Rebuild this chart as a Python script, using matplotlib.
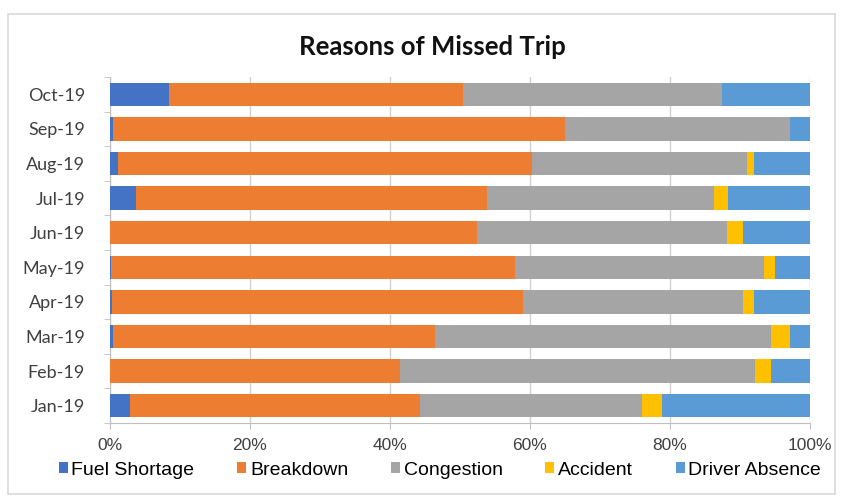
import numpy as np
import matplotlib.pyplot as plt
from matplotlib.patches import Rectangle

months = ["Jan-19", "Feb-19", "Mar-19", "Apr-19", "May-19",
          "Jun-19", "Jul-19", "Aug-19", "Sep-19", "Oct-19"]

# share of missed trips per reason, in %
fuel_shortage = [2.9, 0.0, 0.4, 0.3, 0.2, 0.0, 3.7, 1.2, 0.5, 8.4]
breakdown = [41.4, 41.4, 46.0, 58.7, 57.7, 52.4, 50.2, 59.1, 64.5, 42.0]
congestion = [31.7, 50.7, 48.0, 31.4, 35.5, 35.7, 32.4, 30.7, 32.1, 37.0]
accident = [2.9, 2.4, 2.7, 1.6, 1.6, 2.3, 2.0, 1.0, 0.0, 0.0]
driver_absence = [21.1, 5.5, 2.9, 8.0, 5.0, 9.6, 11.7, 8.0, 2.9, 12.6]

series = [("Fuel Shortage", fuel_shortage, "#4472C4"),
          ("Breakdown", breakdown, "#ED7D31"),
          ("Congestion", congestion, "#A5A5A5"),
          ("Accident", accident, "#FFC000"),
          ("Driver Absence", driver_absence, "#5B9BD5")]

fig = plt.figure(figsize=(8.45, 4.98), dpi=100)
ax = fig.add_axes([110 / 845, 1 - 423 / 498, 700 / 845, 346 / 498])

# light frame round the whole chart
fig.patches.append(Rectangle((8 / 845, 4 / 498), 827 / 845, 480 / 498,
                             transform=fig.transFigure, fill=False,
                             edgecolor="#D9D9D9", linewidth=1.2))

y = np.arange(len(months))
left = np.zeros(len(months))
for name, vals, col in series:
    vals = np.array(vals)
    ax.barh(y, vals, left=left, height=0.68, color=col, label=name, zorder=3)
    left += vals

ax.set_xlim(0, 100)
ax.set_ylim(-0.5, len(months) - 0.5)
ax.set_xticks(np.arange(0, 101, 20))
ax.set_xticklabels([f"{v}%" for v in range(0, 101, 20)],
                   fontsize=12.5, family="Liberation Sans", color="#404040")
ax.set_yticks(y)
ax.set_yticklabels(months, fontsize=13, family="Lato", color="#404040")
ax.set_yticks(np.arange(-0.5, len(months), 1), minor=True)
ax.tick_params(axis="y", which="major", length=0, pad=18)
ax.tick_params(axis="y", which="minor", length=4, color="#BFBFBF")
ax.tick_params(axis="x", length=4, color="#BFBFBF", pad=7)

ax.grid(axis="x", color="#D0D0D0", linewidth=1, zorder=0)
for s in ["top", "right"]:
    ax.spines[s].set_visible(False)
for s in ["left", "bottom"]:
    ax.spines[s].set_color("#BFBFBF")

fig.text(432 / 845, 1 - 47 / 498, "Reasons of Missed Trip", ha="center",
         va="center", fontsize=18.5, fontweight="bold", family="Lato",
         color="#111111")

ax.legend(loc="center", bbox_to_anchor=(440 / 845, 1 - 470 / 498),
          bbox_transform=fig.transFigure, ncol=5, frameon=False,
          handlelength=0.45, handleheight=0.45, handletextpad=0.2,
          columnspacing=2.2, prop={"family": "Liberation Sans", "size": 14})

fig.savefig("out.png", dpi=100, facecolor="white")
